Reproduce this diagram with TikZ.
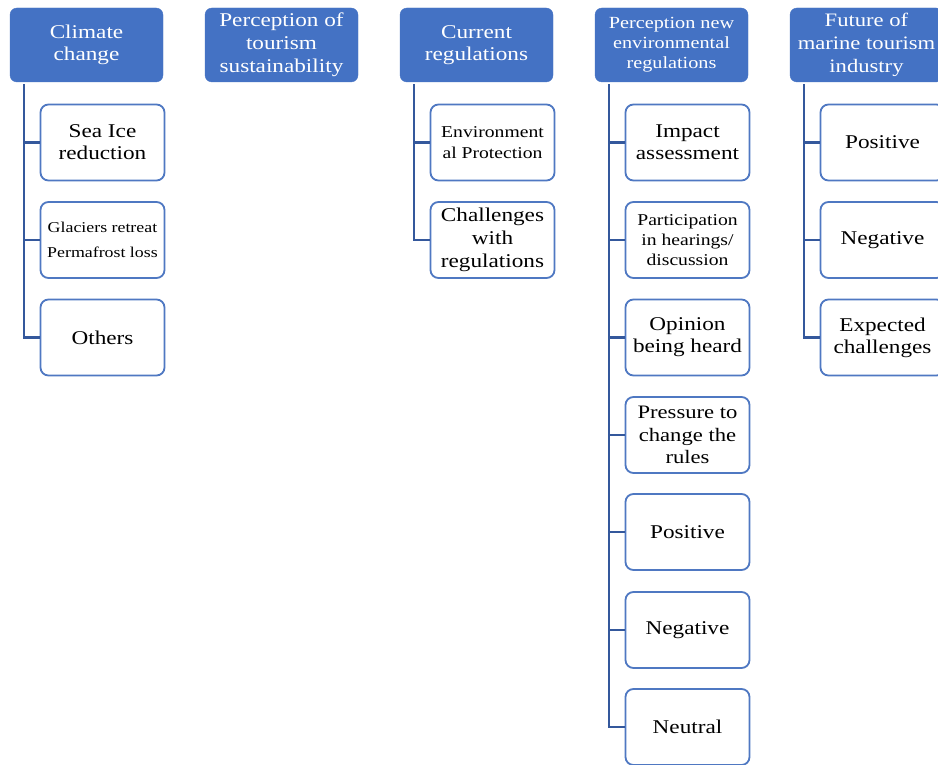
\documentclass[tikz,border=0pt]{standalone}
\usepackage{fontspec}
\setmainfont{Liberation Serif}[FakeStretch=1.19]
\definecolor{hdrblue}{HTML}{4472C4}
\definecolor{lineblue}{HTML}{34589C}
\definecolor{boxblue}{HTML}{4F78C2}
\begin{document}
\begin{tikzpicture}[x=1pt,y=-1pt,
  hdr/.style={draw=hdrblue, fill=hdrblue, text=white, rounded corners=7pt, minimum width=153pt, minimum height=74pt, align=center, inner sep=1pt, font=\fontsize{19.5}{22}\selectfont},
  child/.style={draw=boxblue, fill=white, line width=1.8pt, rounded corners=8pt, minimum width=124pt, minimum height=76pt, align=center, inner sep=1pt, font=\fontsize{19.5}{22}\selectfont},
  conn/.style={draw=lineblue, line width=2.2pt}]
\clip (0,0) rectangle (938,765);
\fill[white] (0,0) rectangle (938,765);
% headers
\node[hdr] (h1) at (86.5,45) {Climate\\change};
\node[hdr, font=\fontsize{19.5}{23}\selectfont] (h2) at (281.5,45) {Perception of\\tourism\\sustainability};
\node[hdr] (h3) at (476.5,45) {Current\\regulations};
\node[hdr, font=\fontsize{17}{20}\selectfont] (h4) at (671.5,45) {Perception new\\environmental\\regulations};
\node[hdr, font=\fontsize{19}{23}\selectfont] (h5) at (866.5,45) {Future of\\marine tourism\\industry};
% column 1
\node[child] (c11) at (102.5,142.5) {Sea Ice\\reduction};
\node[child, font=\fontsize{15}{25}\selectfont] (c12) at (102.5,240) {Glaciers retreat\\Permafrost loss};
\node[child] (c13) at (102.5,337.5) {Others};
% column 3
\node[child, font=\fontsize{16.5}{21}\selectfont] (c31) at (492.5,142.5) {Environment\\al Protection};
\node[child, font=\fontsize{19.5}{23}\selectfont] (c32) at (492.5,240) {Challenges\\with\\regulations};
% column 4
\node[child] (c41) at (687.5,142.5) {Impact\\assessment};
\node[child, font=\fontsize{16.5}{20}\selectfont] (c42) at (687.5,240) {Participation\\in hearings/\\discussion};
\node[child] (c43) at (687.5,337.5) {Opinion\\being heard};
\node[child, font=\fontsize{19}{22.5}\selectfont] (c44) at (687.5,435) {Pressure to\\change the\\rules};
\node[child] (c45) at (687.5,532) {Positive};
\node[child] (c46) at (687.5,630) {Negative};
\node[child] (c47) at (687.5,727) {Neutral};
% column 5
\node[child] (c51) at (882.5,142.5) {Positive};
\node[child] (c52) at (882.5,240) {Negative};
\node[child] (c53) at (882.5,337.5) {Expected\\challenges};
% connectors
\foreach \c in {c11,c12,c13} \draw[conn] ([xshift=14pt,yshift=-2pt]h1.south west) |- (\c.west);
\foreach \c in {c31,c32} \draw[conn] ([xshift=14pt,yshift=-2pt]h3.south west) |- (\c.west);
\foreach \c in {c41,c42,c43,c44,c45,c46,c47} \draw[conn] ([xshift=14pt,yshift=-2pt]h4.south west) |- (\c.west);
\foreach \c in {c51,c52,c53} \draw[conn] ([xshift=14pt,yshift=-2pt]h5.south west) |- (\c.west);
\end{tikzpicture}
\end{document}
